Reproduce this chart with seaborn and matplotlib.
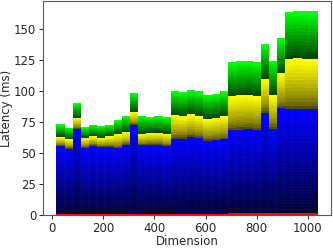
import numpy as np
import pandas as pd
import seaborn as sns
import matplotlib
matplotlib.use("Agg")
import matplotlib.pyplot as plt

# bar positions (dimension) and stack boundaries (ms)
dims = [32, 64, 96, 128, 160, 192, 224, 256, 288, 320, 352, 384, 416, 448, 480, 512,
        544, 576, 608, 640, 672, 704, 736, 768, 800, 832, 864, 896, 928, 960, 992, 1024]
red_top = [0.8, 0.8, 0.8, 0.8, 0.8, 0.8, 0.8, 0.8, 0.8, 1.0, 1.0, 1.0, 1.0, 1.0, 1.0, 1.0,
           1.0, 1.0, 1.0, 1.0, 1.0, 1.4, 1.4, 1.4, 1.4, 1.4, 1.4, 1.8, 1.8, 1.8, 1.8, 1.8]
blue_top = [55.8, 53.6, 69.2, 54.1, 55.8, 54.9, 54.9, 54.1, 56.3, 72.4, 56.3, 56.9, 56.9, 55.5, 61.7, 61.7,
            63.0, 62.2, 59.8, 60.3, 61.1, 68.4, 69.0, 69.2, 68.4, 82.0, 69.2, 86.3, 85.3, 85.3, 85.3, 85.3]
yellow_top = [63.0, 61.1, 78.5, 62.5, 63.6, 62.5, 63.6, 65.7, 67.0, 83.1, 65.7, 66.2, 66.5, 65.7, 80.5, 79.6,
              81.3, 79.9, 77.8, 78.6, 79.9, 95.7, 96.5, 97.1, 96.0, 110.0, 97.1, 114.5, 126.1, 126.6, 126.1, 126.1]
total = [73.2, 70.5, 90.3, 71.0, 73.0, 71.9, 72.8, 76.8, 80.0, 98.7, 80.0, 79.4, 80.2, 79.1, 99.8, 99.2,
         101.1, 99.8, 97.1, 97.9, 99.8, 123.1, 123.9, 124.1, 123.3, 138.1, 124.4, 142.9, 164.1, 164.7, 164.4, 164.4]

# number of shaded slices used for each colour group
n_blue, n_yellow, n_green = 32, 14, 14

def shade(kind, t):
    if kind == "blue":
        return (0.0, 0.0, 0.22 + 0.78 * t)
    if kind == "yellow":
        t = t ** 0.7
        return (0.32 + 0.68 * t, 0.29 + 0.71 * t, 0.0)
    return (0.0, 0.28 + 0.72 * t, 0.0)

# layers bottom -> top
layer_names = ["red"]
palette = {"red": (1.0, 0.0, 0.0)}
groups = [("blue", n_blue), ("yellow", n_yellow), ("green", n_green)]
for kind, n in groups:
    for k in range(n):
        name = f"{kind}_{k:02d}"
        layer_names.append(name)
        palette[name] = shade(kind, k / (n - 1))

rows = []
for i, d in enumerate(dims):
    rows.append((d, "red", red_top[i]))
    segs = {"blue": blue_top[i] - red_top[i],
            "yellow": yellow_top[i] - blue_top[i],
            "green": total[i] - yellow_top[i]}
    for kind, n in groups:
        for k in range(n):
            rows.append((d, f"{kind}_{k:02d}", segs[kind] / n))
df = pd.DataFrame(rows, columns=["dim", "layer", "lat"])

sns.set_style("ticks")
plt.rcParams["font.family"] = ["DejaVu Sans"]
plt.rcParams["font.size"] = 8.5

fig, ax = plt.subplots(figsize=(3.33, 2.48), dpi=100)
# seaborn stacks the last hue level at the bottom
sns.histplot(data=df, x="dim", weights="lat", hue="layer", hue_order=layer_names[::-1],
             palette=palette, multiple="stack", binwidth=32, binrange=(16, 1040),
             legend=False, ax=ax, alpha=1, linewidth=0.3, edgecolor=(1, 1, 1, 0.05))

ax.set_xlabel("Dimension", fontsize=8.5, labelpad=0)
ax.set_ylabel("Latency (ms)", fontsize=8.5)
ax.yaxis.set_label_coords(-0.105, 0.5)
ax.set_xticks([0, 200, 400, 600, 800, 1000])
ax.set_yticks([0, 25, 50, 75, 100, 125, 150])
ax.tick_params(labelsize=8.5, length=3, width=0.7, pad=2)
for s in ax.spines.values():
    s.set_color("0.35")
    s.set_linewidth(0.8)

fig.subplots_adjust(left=0.13, right=0.994, bottom=0.133, top=0.997)
fig.savefig("out.png", dpi=100)
